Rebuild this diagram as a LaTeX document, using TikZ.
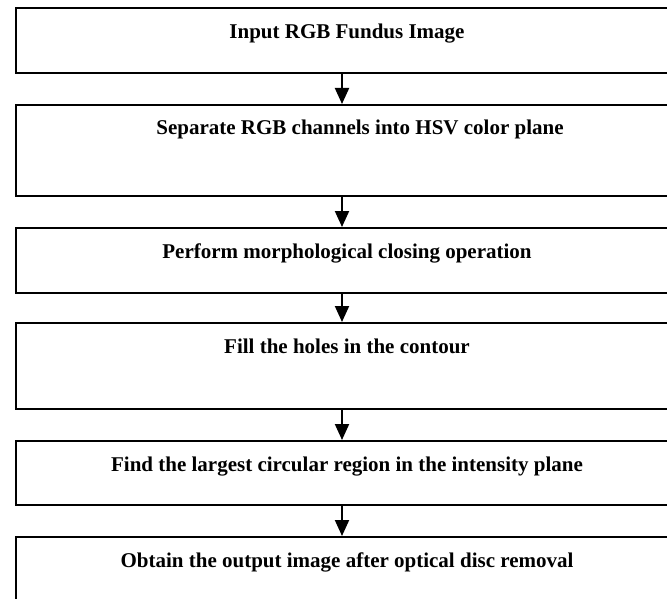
\documentclass[tikz,border=0pt]{standalone}
\usepackage{fontspec}
\setmainfont{Liberation Serif}
\usetikzlibrary{arrows.meta}
\begin{document}
\begin{tikzpicture}[x=1pt,y=-1pt,
  box/.style={draw=black, line width=2pt, rectangle, anchor=north west, minimum width=690pt, inner sep=0pt},
  lbl/.style={anchor=base, inner sep=0pt, font=\bfseries\fontsize{21}{25}\selectfont},
  arr/.style={line width=2pt, -{Triangle[length=16pt,width=14pt]}}]
\useasboundingbox (0,0) rectangle (667,599);
\clip (0,0) rectangle (667,599);
\fill[white] (0,0) rectangle (667,599);
\coordinate (xa) at (342,0);
\node[box, minimum height=64.5pt] (b1) at (15,7.5) {};
\node[box, minimum height=91pt] (b2) at (15,104) {};
\node[box, minimum height=65pt] (b3) at (15,227) {};
\node[box, minimum height=86pt] (b4) at (15,322) {};
\node[box, minimum height=64pt] (b5) at (15,440) {};
\node[box, minimum height=90pt] (b6) at (15,536) {};
\node[lbl] (t1) at (347,38.5) {Input RGB Fundus Image};
\node[lbl] (t2) at (360,135) {Separate RGB channels into HSV color plane};
\node[lbl] (t3) at (347,258) {Perform morphological closing operation};
\node[lbl] (t4) at (347,353) {Fill the holes in the contour};
\node[lbl] (t5) at (347,471) {Find the largest circular region in the intensity plane};
\node[lbl] (t6) at (347,567) {Obtain the output image after optical disc removal};
\draw[arr] (b1.south -| xa) -- (b2.north -| xa);
\draw[arr] (b2.south -| xa) -- (b3.north -| xa);
\draw[arr] (b3.south -| xa) -- (b4.north -| xa);
\draw[arr] (b4.south -| xa) -- (b5.north -| xa);
\draw[arr] (b5.south -| xa) -- (b6.north -| xa);
\end{tikzpicture}
\end{document}
